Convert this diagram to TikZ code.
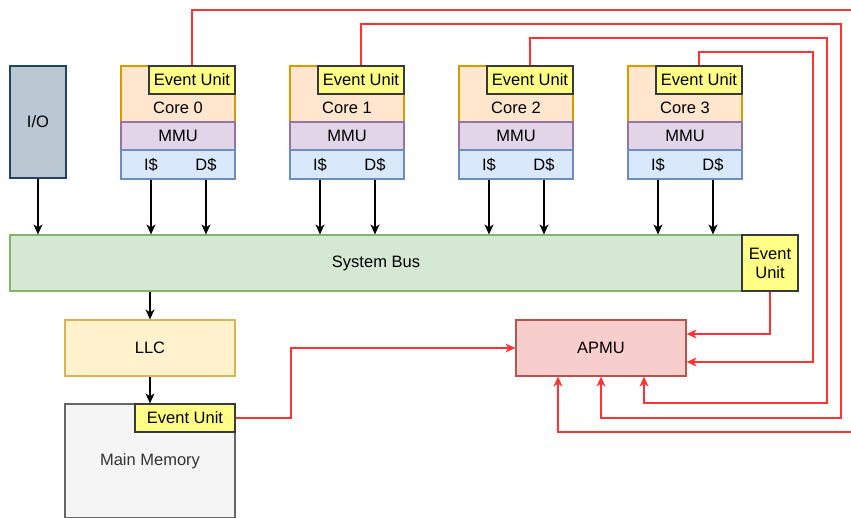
\documentclass[tikz,border=0pt]{standalone}
\usepackage{fontspec}
\setmainfont{Liberation Sans}
\usetikzlibrary{arrows.meta,calc}
\definecolor{ioFill}{HTML}{BAC8D3}\definecolor{ioLine}{HTML}{23445D}
\definecolor{coreFill}{HTML}{FFE6CC}\definecolor{coreLine}{HTML}{D79B00}
\definecolor{mmuFill}{HTML}{E1D5E7}\definecolor{mmuLine}{HTML}{9673A6}
\definecolor{cacheFill}{HTML}{DAE8FC}\definecolor{cacheLine}{HTML}{6C8EBF}
\definecolor{euFill}{HTML}{FFFF88}\definecolor{euLine}{HTML}{36393D}
\definecolor{busFill}{HTML}{D5E8D4}\definecolor{busLine}{HTML}{82B366}
\definecolor{llcFill}{HTML}{FFF2CC}\definecolor{llcLine}{HTML}{D6B656}
\definecolor{memFill}{HTML}{F5F5F5}\definecolor{memLine}{HTML}{666666}
\definecolor{apmuFill}{HTML}{F8CECC}\definecolor{apmuLine}{HTML}{B85450}
\definecolor{sigRed}{HTML}{FF3333}
\tikzset{
	txt/.style={inner sep=0pt, font=\fontsize{16.5}{19}\selectfont},
	box/.style={txt, draw, line width=1.2pt},
	ioBox/.style={box, fill=ioFill, draw=ioLine},
	coreBox/.style={box, fill=coreFill, draw=coreLine},
	mmuBox/.style={box, fill=mmuFill, draw=mmuLine},
	cacheBox/.style={box, fill=cacheFill, draw=cacheLine},
	euBox/.style={box, fill=euFill, draw=euLine},
	busBox/.style={box, fill=busFill, draw=busLine},
	llcBox/.style={box, fill=llcFill, draw=llcLine},
	memBox/.style={box, fill=memFill, draw=memLine, text=black!80},
	apmuBox/.style={box, fill=apmuFill, draw=apmuLine},
	arr/.style={line width=1.4pt, -{Stealth[length=10pt,width=9pt,inset=3pt]}},
	sig/.style={arr, draw=sigRed}
}
\begin{document}
\begin{tikzpicture}[x=1pt, y=-1pt]
	%%%%% START %%%%%
	\useasboundingbox (0,0) rectangle (851,517);
	\clip (0,0) rectangle (851,517);
	
	\node[ioBox, minimum width=56, minimum height=112] (io) at (38,122) {I/O};
	
	\foreach \i in {0,...,3}{
		\begin{scope}[xshift=169*\i]
			\node[coreBox, minimum width=114, minimum height=56] (core\i) at (178,94) {};
			\node[euBox, minimum width=86, minimum height=28] (eu\i) at (192,80) {Event Unit};
			\node[txt] (clbl\i) at (178,108) {Core \i};
			\node[mmuBox, minimum width=114, minimum height=28] (mmu\i) at (178,136) {MMU};
			\node[cacheBox, minimum width=114, minimum height=29] (cache\i) at (178,164.5) {};
			\node[txt] (ic\i) at (151,164.5) {I\$};
			\node[txt] (dc\i) at (206,164.5) {D\$};
		\end{scope}
	}
	
	\node[busBox, minimum width=732, minimum height=56] (bus) at (376,263) {System Bus};
	\node[euBox, minimum width=56, minimum height=56, align=center] (buseu) at (770,263) {Event\\Unit};
	
	\node[llcBox, minimum width=170, minimum height=56] (llc) at (150,348) {LLC};
	\node[memBox, minimum width=170, minimum height=114] (mem) at (150,461) {Main Memory};
	\node[euBox, minimum width=100, minimum height=28] (memeu) at (185,418) {Event Unit};
	
	\node[apmuBox, minimum width=170, minimum height=56] (apmu) at (601,348) {APMU};
	
	% black data paths
	\draw[arr] (io.south) -- (io.south |- bus.north);
	\foreach \i in {0,...,3}{
		\draw[arr] (ic\i |- cache\i.south) -- (ic\i |- bus.north);
		\draw[arr] (dc\i |- cache\i.south) -- (dc\i |- bus.north);
	}
	\draw[arr] (llc.north |- bus.south) -- (llc.north);
	\draw[arr] (llc.south) -- (mem.north);
	
	% event signals to the APMU
	\draw[sig] (eu0.north) |- (856,10) -- (856,432) -| ($(apmu.south)+(-43,0)$);
	\draw[sig] (eu1.north) |- (841,24) -- (841,418) -| (apmu.south);
	\draw[sig] (eu2.north) |- (827,38) -- (827,403) -| ($(apmu.south)+(43,0)$);
	\draw[sig] (eu3.north) |- (813,52) |- ($(apmu.east)+(0,14)$);
	\draw[sig] (buseu.south) |- ($(apmu.east)+(0,-14)$);
	\draw[sig] (memeu.east) -| (291,348) -- (apmu.west);
	
	%%%%% END %%%%%
\end{tikzpicture}
\end{document}
